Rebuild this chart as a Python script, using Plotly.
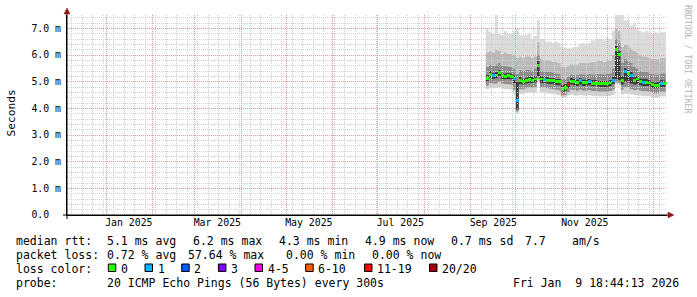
import plotly.graph_objects as go
import pandas as pd

# ---------------- data ----------------
start_time = "2024-12-05 18:44:13"
end_time = "2026-01-09 18:44:13"
sample_dates = pd.date_range("2025-09-11", periods=61, freq="2D")

median_ms = [5.12, 5.28, 5.22, 5.25, 5.33, 5.22, 5.20, 5.22, 5.20, 5.12,
             4.30, 5.05, 5.00, 5.05, 5.08, 5.06, 5.10, 5.62, 5.10, 5.08,
             5.06, 5.03, 5.03, 5.00, 5.00, 4.72, 4.78, 4.90, 5.02, 5.00,
             4.97, 5.03, 4.97, 4.97, 4.99, 4.94, 4.94, 4.93, 4.92, 4.92,
             4.92, 4.95, 5.06, 6.20, 6.02, 5.06, 5.38, 5.30, 5.22, 5.06,
             5.10, 5.00, 4.97, 4.97, 4.95, 4.88, 4.85, 4.86, 4.93, 4.92, 4.95]
loss_pings = [0, 0, 1, 0, 0, 0, 0, 0, 0, 1,
              1, 0, 0, 0, 0, 0, 0, 0, 0, 1,
              0, 0, 0, 0, 0, 0, 0, 19, 0, 0,
              0, 1, 0, 0, 1, 0, 0, 0, 0, 0,
              0, 0, 1, 0, 0, 0, 1, 0, 1, 0,
              0, 0, 1, 0, 0, 0, 0, 0, 1, 0, 0]
smoke_top = [7.00, 6.85, 6.80, 7.55, 6.80, 6.75, 6.90, 6.80, 6.80, 6.90,
             7.00, 6.75, 6.70, 6.75, 6.80, 6.60, 6.70, 7.30, 6.60, 6.55,
             6.50, 6.50, 6.45, 6.50, 6.45, 6.30, 6.25, 6.25, 6.25, 6.30,
             6.30, 6.40, 6.45, 6.40, 6.45, 6.55, 6.55, 6.60, 6.60, 6.55,
             6.65, 6.60, 6.90, 7.55, 7.50, 7.55, 7.30, 7.30, 7.10, 7.20,
             7.00, 6.90, 6.85, 6.90, 6.85, 6.80, 6.85, 6.80, 6.85, 6.85, 6.90]
smoke_u3 = [6.10, 6.15, 6.10, 6.20, 6.15, 6.05, 6.10, 6.05, 6.05, 6.00,
            5.90, 5.95, 5.90, 5.95, 5.95, 5.90, 5.95, 6.50, 5.85, 5.80,
            5.80, 5.78, 5.75, 5.75, 5.70, 5.55, 5.55, 5.60, 5.65, 5.65,
            5.65, 5.70, 5.70, 5.70, 5.72, 5.75, 5.75, 5.78, 5.78, 5.75,
            5.80, 5.80, 6.00, 7.00, 6.90, 6.30, 6.40, 6.35, 6.25, 6.15,
            6.10, 6.00, 5.95, 5.95, 5.90, 5.85, 5.85, 5.85, 5.90, 5.90, 5.92]
smoke_u2 = [5.55, 5.65, 5.60, 5.65, 5.70, 5.60, 5.60, 5.58, 5.55, 5.50,
            5.30, 5.45, 5.40, 5.45, 5.45, 5.42, 5.50, 6.00, 5.42, 5.40,
            5.38, 5.36, 5.35, 5.32, 5.30, 5.10, 5.12, 5.20, 5.28, 5.27,
            5.25, 5.30, 5.28, 5.28, 5.30, 5.28, 5.28, 5.30, 5.30, 5.28,
            5.30, 5.32, 5.50, 6.60, 6.45, 5.70, 5.85, 5.80, 5.70, 5.55,
            5.50, 5.42, 5.38, 5.38, 5.35, 5.30, 5.28, 5.28, 5.32, 5.32, 5.35]
smoke_u1 = [5.25, 5.40, 5.34, 5.37, 5.45, 5.34, 5.32, 5.34, 5.32, 5.25,
            5.00, 5.18, 5.12, 5.17, 5.20, 5.18, 5.22, 5.78, 5.22, 5.20,
            5.18, 5.15, 5.15, 5.12, 5.12, 4.88, 4.92, 5.02, 5.14, 5.12,
            5.09, 5.15, 5.09, 5.09, 5.11, 5.06, 5.06, 5.05, 5.04, 5.04,
            5.04, 5.07, 5.20, 6.35, 6.15, 5.22, 5.52, 5.45, 5.36, 5.20,
            5.23, 5.13, 5.10, 5.10, 5.08, 5.01, 4.98, 4.99, 5.06, 5.05, 5.08]
smoke_l1 = [5.00, 5.15, 5.10, 5.12, 5.20, 5.10, 5.08, 5.10, 5.08, 4.95,
            3.95, 4.90, 4.88, 4.92, 4.95, 4.94, 4.96, 5.20, 4.95, 4.94,
            4.92, 4.90, 4.90, 4.87, 4.86, 4.58, 4.62, 4.76, 4.88, 4.86,
            4.84, 4.88, 4.84, 4.84, 4.86, 4.82, 4.82, 4.81, 4.80, 4.80,
            4.80, 4.83, 4.90, 5.10, 5.05, 4.88, 5.00, 4.96, 4.92, 4.88,
            4.90, 4.86, 4.84, 4.84, 4.82, 4.76, 4.74, 4.75, 4.80, 4.80, 4.82]
smoke_l2 = [4.85, 4.95, 4.92, 4.92, 5.00, 4.92, 4.90, 4.90, 4.88, 4.70,
            3.88, 4.72, 4.72, 4.75, 4.78, 4.76, 4.78, 5.10, 4.78, 4.76,
            4.75, 4.73, 4.72, 4.70, 4.68, 4.48, 4.50, 4.60, 4.70, 4.68,
            4.66, 4.70, 4.66, 4.66, 4.68, 4.64, 4.64, 4.63, 4.62, 4.62,
            4.62, 4.65, 4.70, 4.98, 4.95, 4.70, 4.78, 4.76, 4.72, 4.68,
            4.70, 4.66, 4.64, 4.64, 4.62, 4.58, 4.56, 4.57, 4.62, 4.62, 4.64]
smoke_bot = [4.72, 4.75, 4.75, 4.76, 4.80, 4.74, 4.72, 4.72, 4.70, 4.55,
             3.82, 4.55, 4.55, 4.58, 4.60, 4.58, 4.60, 5.02, 4.60, 4.58,
             4.57, 4.55, 4.55, 4.52, 4.50, 4.40, 4.42, 4.48, 4.52, 4.50,
             4.48, 4.50, 4.48, 4.48, 4.50, 4.46, 4.46, 4.45, 4.45, 4.45,
             4.45, 4.47, 4.50, 4.90, 4.88, 4.52, 4.55, 4.55, 4.52, 4.50,
             4.50, 4.48, 4.46, 4.46, 4.45, 4.42, 4.40, 4.40, 4.45, 4.45, 4.46]

y_tick_vals = [0, 1, 2, 3, 4, 5, 6, 7]
y_tick_text = ["0.0\u00a0\u00a0", "1.0 m", "2.0 m", "3.0 m", "4.0 m", "5.0 m", "6.0 m", "7.0 m"]
x_label_dates = ["2025-01-16", "2025-03-16", "2025-05-16", "2025-07-16", "2025-09-16", "2025-11-16"]
x_label_text = ["Jan 2025", "Mar 2025", "May 2025", "Jul 2025", "Sep 2025", "Nov 2025"]

loss_labels = ["0", "1", "2", "3", "4-5", "6-10", "11-19", "20/20"]
loss_upper = [0, 1, 2, 3, 5, 10, 19, 20]
loss_colors = ["#26ff00", "#00b8ff", "#0059ff", "#7e00ff", "#ff00ea", "#ff5e00", "#ff0000", "#a00000"]

row1_text = ["median rtt:", "5.1 ms avg", "6.2 ms max", "4.3 ms min", "4.9 ms now", "0.7 ms sd", "7.7", "am/s"]
row2_text = ["packet loss:", "0.72 % avg", "57.64 % max", "0.00 % min", "0.00 % now"]
row3_text = ["loss color:"]
row4_text = ["probe:", "20 ICMP Echo Pings (56 Bytes) every 300s", "Fri Jan  9 18:44:13 2026"]

# ---------------- layout / style constants ----------------
W, H = 697, 297
L, R, T, B = 67, 30, 15, 82
PW, PH = W - L - R, H - T - B
row1_x = [16, 107.3, 192.7, 279.3, 365, 451, 525, 571.7]
row2_x = [16, 107.3, 188.3, 286, 372.3]
row3_x = [16]
row4_x = [16, 107.3, 513.3]
row_y = [241, 255, 269, 283.3]
box_x = [108.3, 145, 181.7, 218.4, 255, 305.7, 364.5, 429.5]
STEP_MS = 2 * 86400000          # sample spacing on the time axis
MEDIAN_HALF = 0.056             # half thickness of the median band (ms units)

MONO = "DejaVu Sans Mono"


def px(x):
    return (x - L) / PW


def py(y):
    return (T + PH - y) / PH


fig = go.Figure()

# smoke bands (subplot 1)
bands = [
    (smoke_bot, None),
    (smoke_l2, "#d2d2d2"),
    (smoke_l1, "#909090"),
    (smoke_u1, "#3c3c3c"),
    (smoke_u2, "#8c8c8c"),
    (smoke_u3, "#bababa"),
    (smoke_top, "#dcdcdc"),
]
for vals, col in bands:
    fig.add_trace(go.Scatter(
        x=sample_dates, y=vals, mode="lines", line=dict(width=0, shape="hv"),
        fill=None if col is None else "tonexty", fillcolor=col,
        xaxis="x", yaxis="y", hoverinfo="skip", showlegend=False))

# grid holder (subplot 2)
fig.add_trace(go.Scatter(x=[sample_dates[0]], y=[None], mode="lines",
                         xaxis="x2", yaxis="y2", showlegend=False, hoverinfo="skip"))


# median drawn as a thin band coloured by loss (subplot 3)
def loss_color(n):
    for up, col in zip(loss_upper, loss_colors):
        if n <= up:
            return col
    return loss_colors[-1]


bar_x = [d + pd.Timedelta(days=1) for d in sample_dates]
fig.add_trace(go.Bar(
    x=bar_x, y=[2 * MEDIAN_HALF] * len(median_ms), base=[m - MEDIAN_HALF for m in median_ms],
    width=STEP_MS, marker=dict(color=[loss_color(n) for n in loss_pings], line=dict(width=0)),
    xaxis="x3", yaxis="y3", showlegend=False, hoverinfo="skip"))

xr = [start_time, end_time]
yr = [0, 7.5]
tickfont = dict(family=MONO, size=9.85, color="#000000")

fig.update_layout(
    width=W, height=H, margin=dict(l=L, r=R, t=T, b=B, pad=0),
    paper_bgcolor="#ffffff", plot_bgcolor="rgba(0,0,0,0)",
    showlegend=False, bargap=0,
    xaxis=dict(type="date", range=xr, domain=[0, 1], anchor="y", showgrid=False, zeroline=False,
               tickmode="array", tickvals=x_label_dates, ticktext=x_label_text, ticks="",
               tickfont=tickfont, showline=False, fixedrange=True),
    yaxis=dict(range=yr, domain=[0, 1], anchor="x", showgrid=False, zeroline=False,
               tickmode="array", tickvals=y_tick_vals, ticktext=y_tick_text,
               ticks="outside", ticklen=3, tickcolor="rgba(0,0,0,0)",
               tickfont=tickfont, showline=False),
    xaxis2=dict(type="date", range=xr, domain=[0, 1], anchor="y2", showticklabels=False,
                tick0="2025-01-01", dtick="M1", ticks="", zeroline=False,
                showgrid=True, gridcolor="#e59a9a", gridwidth=1, griddash="1px,1px",
                minor=dict(dtick=7 * 86400000, tick0="2024-12-02", showgrid=True,
                           gridcolor="#cfcfcf", gridwidth=1, griddash="1px,1px")),
    yaxis2=dict(range=yr, domain=[0, 1], anchor="x2", showticklabels=False, zeroline=False,
                tick0=0, dtick=1, ticks="",
                showgrid=True, gridcolor="#e59a9a", gridwidth=1, griddash="1px,1px",
                minor=dict(dtick=0.2, tick0=0, showgrid=True,
                           gridcolor="#cfcfcf", gridwidth=1, griddash="1px,1px")),
    xaxis3=dict(type="date", range=xr, domain=[0, 1], anchor="y3", showticklabels=False,
                showgrid=False, zeroline=False, ticks="", showline=True, linecolor="#000000", linewidth=1),
    yaxis3=dict(range=yr, domain=[0, 1], anchor="x3", showticklabels=False,
                showgrid=False, zeroline=False, ticks="", showline=True, linecolor="#000000", linewidth=1),
)

ann = []
legfont = dict(family=MONO, size=11.5, color="#000000")
for texts, xs, yv in [(row1_text, row1_x, row_y[0]), (row2_text, row2_x, row_y[1]),
                      (row3_text, row3_x, row_y[2]), (row4_text, row4_x, row_y[3])]:
    for t, xv in zip(texts, xs):
        ann.append(dict(text=t, x=px(xv), y=py(yv), xref="paper", yref="paper",
                        xanchor="left", yanchor="middle", showarrow=False,
                        font=legfont, borderpad=0, borderwidth=0))
shapes = []
for bx, lab, col in zip(box_x, loss_labels, loss_colors):
    shapes.append(dict(type="rect", xref="paper", yref="paper",
                       x0=px(bx), x1=px(bx + 7.5), y0=py(271.5), y1=py(264),
                       fillcolor=col, line=dict(color="#000000", width=1)))
    ann.append(dict(text=lab, x=px(bx + 12.5), y=py(row_y[2]), xref="paper", yref="paper",
                    xanchor="left", yanchor="middle", showarrow=False,
                    font=legfont, borderpad=0, borderwidth=0))

# y-axis title
ann.append(dict(text="Seconds", x=px(11), y=py(113.5), xref="paper", yref="paper",
                xanchor="center", yanchor="middle", showarrow=False, textangle=-90,
                font=dict(family=MONO, size=11.2, color="#000000"), borderpad=0, borderwidth=0))
# watermark
ann.append(dict(text="RRDTOOL / TOBI OETIKER", x=px(688), y=py(59), xref="paper", yref="paper",
                xanchor="center", yanchor="middle", showarrow=False, textangle=90,
                font=dict(family=MONO, size=8.2, color="#b4b4b4"), borderpad=0, borderwidth=0))

# axis extensions and arrow heads
shapes.append(dict(type="line", xref="paper", yref="paper", x0=px(63), x1=px(670), y0=py(215), y1=py(215),
                   line=dict(color="#000000", width=1)))
shapes.append(dict(type="line", xref="paper", yref="paper", x0=px(67), x1=px(67), y0=py(219), y1=py(12),
                   line=dict(color="#000000", width=1)))
shapes.append(dict(type="path", xref="paper", yref="paper",
                   path=f"M {px(668)},{py(212)} L {px(674)},{py(215)} L {px(668)},{py(218)} Z",
                   fillcolor="#8b1a1a", line=dict(color="#8b1a1a", width=0.5)))
shapes.append(dict(type="path", xref="paper", yref="paper",
                   path=f"M {px(64)},{py(14)} L {px(67)},{py(8)} L {px(70)},{py(14)} Z",
                   fillcolor="#8b1a1a", line=dict(color="#8b1a1a", width=0.5)))

fig.update_layout(annotations=ann, shapes=shapes)
fig.write_html("out.html")
